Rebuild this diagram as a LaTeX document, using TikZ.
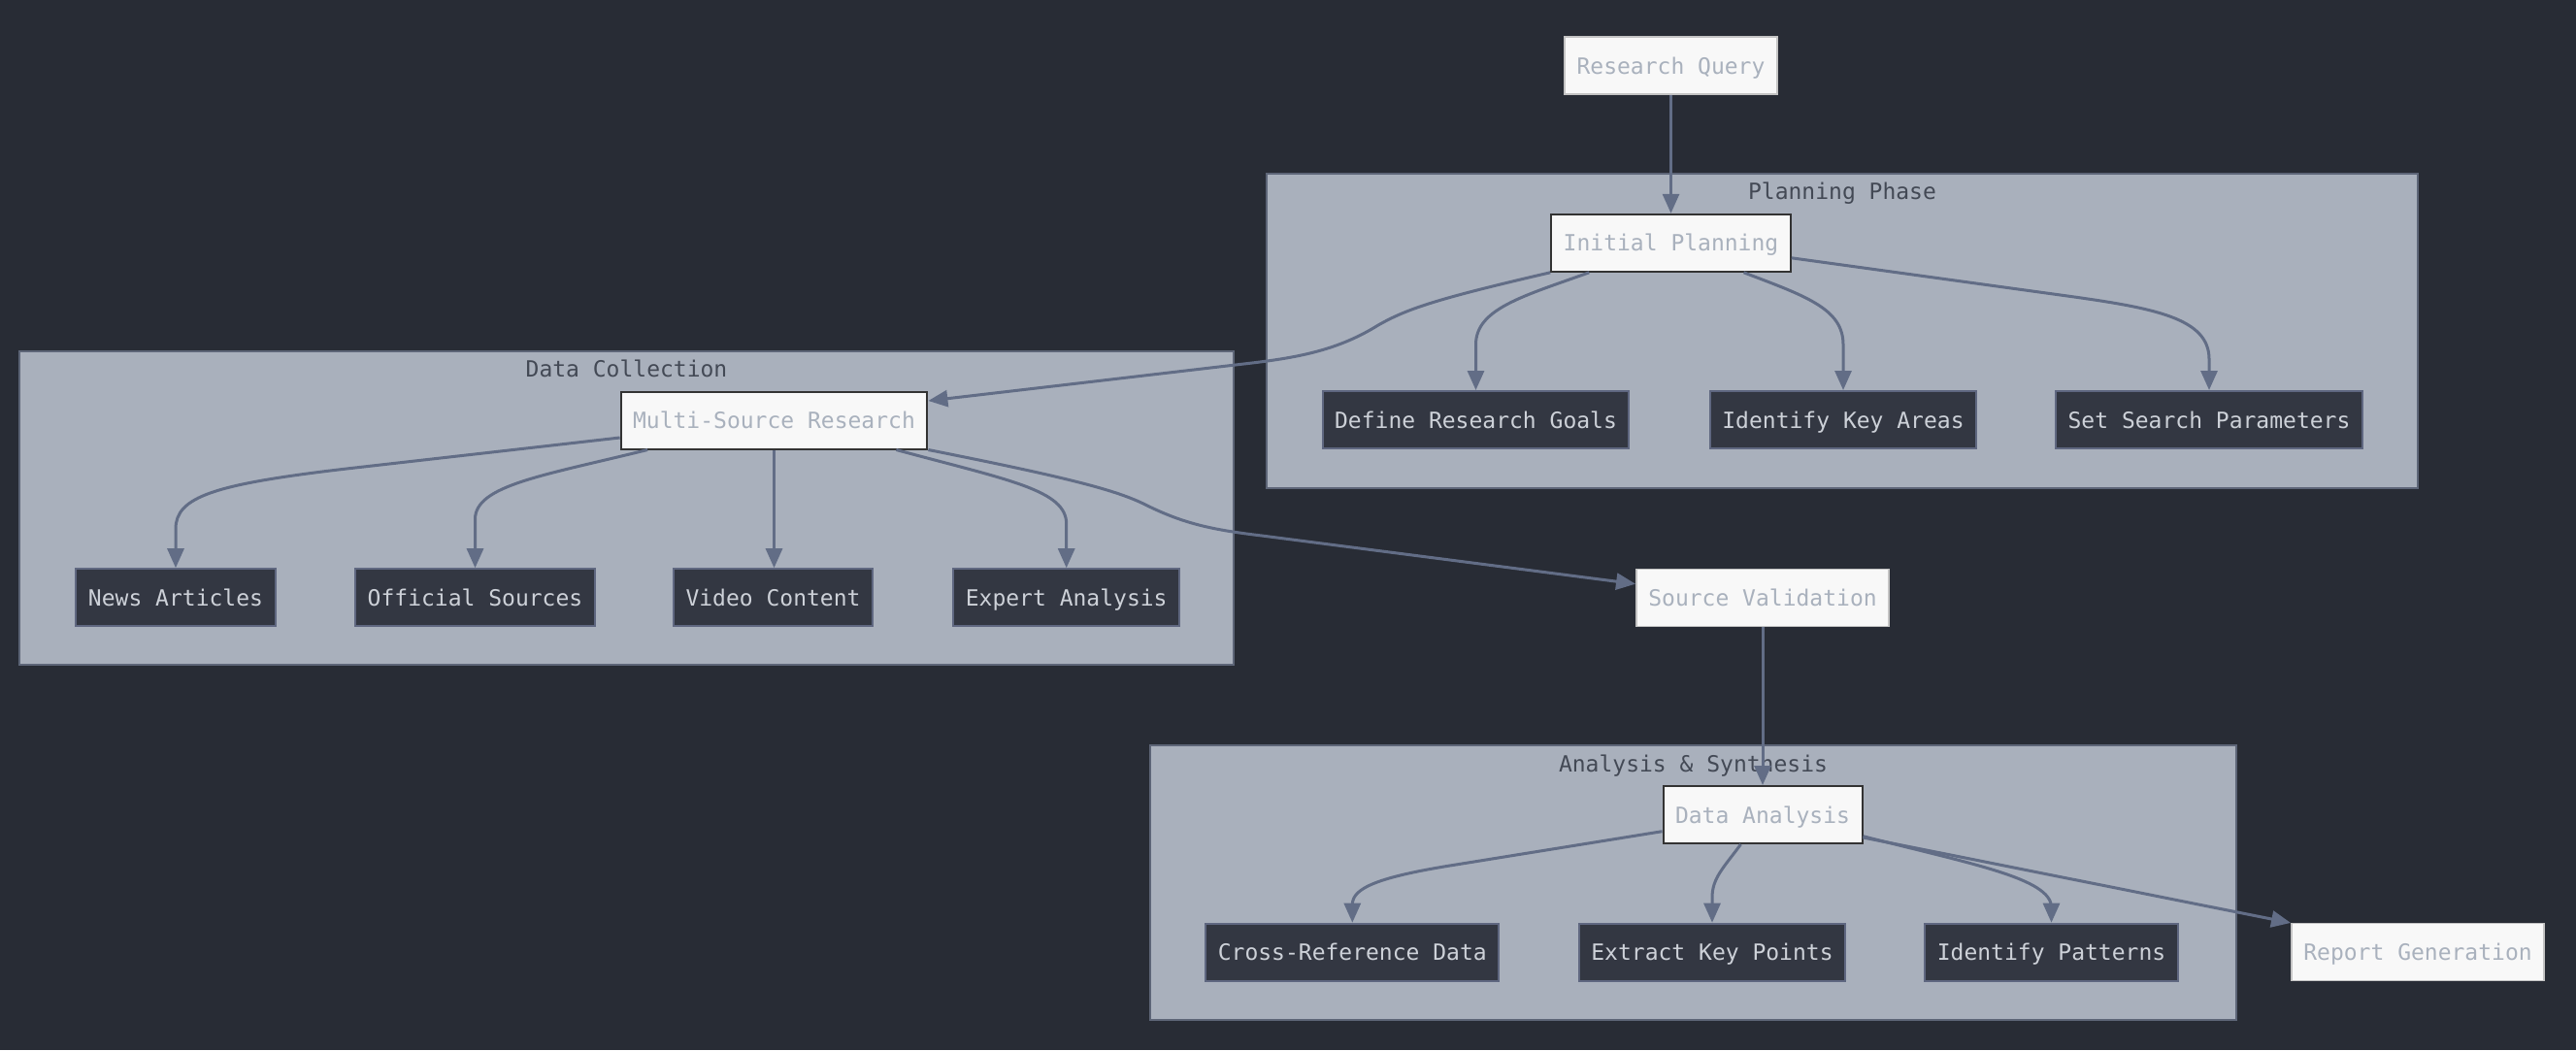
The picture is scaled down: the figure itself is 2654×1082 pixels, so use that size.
\documentclass[tikz,border=0pt]{standalone}
\usepackage{fontspec}
\setmainfont{DejaVu Sans Mono}
\usetikzlibrary{arrows.meta,calc}
\definecolor{bg}{HTML}{282C35}
\definecolor{clfill}{HTML}{A9B0BC}
\definecolor{clline}{HTML}{5D6577}
\definecolor{cltext}{HTML}{434955}
\definecolor{dkfill}{HTML}{333742}
\definecolor{dkline}{HTML}{5F6780}
\definecolor{dktext}{HTML}{CDD1D8}
\definecolor{ltfill}{HTML}{F8F8F8}
\definecolor{lttext}{HTML}{A9B1BD}
\definecolor{ltline}{HTML}{C4C4C4}
\definecolor{hiline}{HTML}{333333}
\definecolor{edgec}{HTML}{626D86}
\tikzset{
  base/.style={rectangle, font=\fontsize{23}{27}\selectfont, text height=17pt, text depth=0pt,
    inner xsep=12.5pt, inner ysep=0pt, minimum height=59pt},
  litebox/.style={base, fill=ltfill, draw=ltline, line width=1.5pt, text=lttext},
  hibox/.style={base, fill=ltfill, draw=hiline, line width=2pt, text=lttext},
  darkbox/.style={base, fill=dkfill, draw=dkline, line width=2pt, text=dktext},
  cluster/.style={fill=clfill, draw=clline, line width=2pt},
  ctitle/.style={font=\fontsize{23}{27}\selectfont, text height=17pt, text depth=0pt, inner sep=0pt, text=cltext},
  edge/.style={draw=edgec, line width=3pt, -{Triangle[length=20pt,width=17pt]}}
}
\begin{document}
\begin{tikzpicture}[x=1pt,y=-1pt]
\useasboundingbox (0,0) rectangle (2654,1082);
\fill[bg] (0,0) rectangle (2654,1082);
% clusters
\draw[cluster] (1305,179) rectangle (2491,503);
\draw[cluster] (20,362) rectangle (1271,685);
\draw[cluster] (1185,768) rectangle (2304,1051);
\node[ctitle] (tplan) at (1898,197) {Planning Phase};
\node[ctitle] (tdata) at (645.5,380) {Data Collection};
\node[ctitle] (tanal) at (1744.5,786.5) {Analysis \& Synthesis};
% nodes
\node[litebox] (rq) at (1721.5,67.5) {Research Query};
\node[hibox] (ip) at (1721.5,250.3) {Initial Planning};
\node[darkbox] (drg) at (1520.5,432.5) {Define Research Goals};
\node[darkbox] (ika) at (1899,432.5) {Identify Key Areas};
\node[darkbox] (ssp) at (2276,432.5) {Set Search Parameters};
\node[hibox] (msr) at (797.5,433) {Multi-Source Research};
\node[darkbox] (na) at (181,615.7) {News Articles};
\node[darkbox] (os) at (489.5,615.7) {Official Sources};
\node[darkbox] (vc) at (796.5,615.7) {Video Content};
\node[darkbox] (ea) at (1098.7,615.7) {Expert Analysis};
\node[litebox] (sv) at (1816,616) {Source Validation};
\node[hibox] (da) at (1816,839.5) {Data Analysis};
\node[darkbox] (crd) at (1393.3,981.2) {Cross-Reference Data};
\node[darkbox] (ekp) at (1764,981.2) {Extract Key Points};
\node[darkbox] (ipat) at (2113.5,981.2) {Identify Patterns};
\node[litebox] (rg) at (2491,981.2) {Report Generation};
% edges
\draw[edge] (rq) -- (ip);
\draw[edge] (ip.south west) .. controls (1480,308) and (1450,318) .. (1420,335)
   .. controls (1380,360) and (1340,368) .. (1290,374) -- ($(msr.east)+(0,-20)$);
\draw[edge] ($(ip.south west)+(40,0)$) .. controls (1570,305) and (1520.5,318) .. (1520.5,355) -- (drg.north);
\draw[edge] ($(ip.south)+(75,0)$) .. controls (1860,305) and (1899,318) .. (1899,355) -- (ika.north);
\draw[edge] ($(ip.east)+(0,15.5)$) -- (2130,305) .. controls (2220,317.5) and (2276,328) .. (2276,370) -- (ssp.north);
\draw[edge] ($(msr.west)+(0,18)$) -- (357,483) .. controls (220,499) and (181,512) .. (181,545) -- (na.north);
\draw[edge] ($(msr.south west)+(28.5,0)$) .. controls (560,490) and (489.5,500) .. (489.5,535) -- (os.north);
\draw[edge] (msr.south) -- (msr.south |- vc.north);
\draw[edge] ($(msr.south east)+(-33,0)$) .. controls (1040,495) and (1098.7,505) .. (1098.7,540) -- (ea.north);
\draw[edge] (msr.south east) .. controls (1100,492) and (1150,505) .. (1180,520)
   .. controls (1220,540) and (1250,546) .. (1300,552) -- ($(sv.west)+(0,-14.3)$);
\draw[edge] (sv) -- (da);
\draw[edge] ($(da.west)+(0,17.2)$) -- (1500,891) .. controls (1420,903.6) and (1393.3,915) .. (1393.3,932) -- (crd.north);
\draw[edge] ($(da.south)+(-22.5,0)$) .. controls (1775,895) and (1764,905) .. (1764,925) -- (ekp.north);
\draw[edge] ($(da.east)+(0,22.2)$) .. controls (2030,890) and (2113.5,905) .. (2113.5,935) -- (ipat.north);
\draw[edge] ($(da.east)+(0,23.5)$) -- (rg.north west);
\end{tikzpicture}
\end{document}
